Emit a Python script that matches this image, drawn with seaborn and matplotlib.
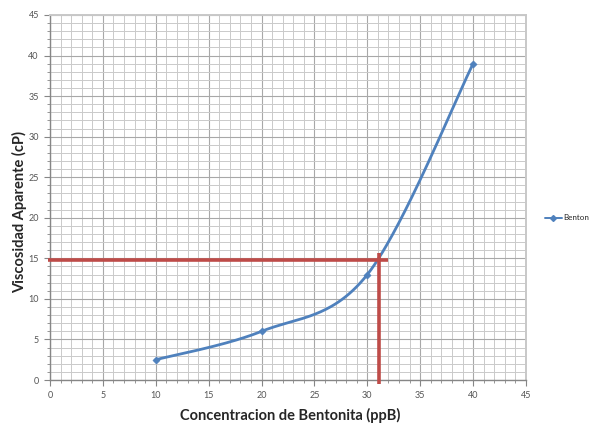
import numpy as np
import pandas as pd
import matplotlib
matplotlib.use("Agg")
import matplotlib.pyplot as plt
from matplotlib.lines import Line2D
from matplotlib.ticker import MultipleLocator
import seaborn as sns

# Measured points
concentracion = [10, 20, 30, 40]
viscosidad = [2.5, 6, 13, 39]
serie = "Bentonita"

# Reading guide lines (red)
guia_y = 14.8
guia_x = 31.1
guia_x_fin = 32.0
guia_y_fin = 15.6

sns.set_style("white")
plt.rcParams['font.family'] = ['Lato', 'DejaVu Sans']

W, H = 589, 423
fig = plt.figure(figsize=(W / 100, H / 100), dpi=100)
ax = fig.add_axes([50 / W, 1 - 380 / H, 476 / W, 365 / H])

azul = "#4F81BD"
rojo = "#BE4B48"


def curva_suave(x, y, n=60):
    """Excel-style smoothed line: cubic Bezier with cardinal control points."""
    p = np.column_stack([x, y]).astype(float)
    ext = np.vstack([p[0], p, p[-1]])
    pts = []
    t = np.linspace(0, 1, n)[:, None]
    for i in range(len(p) - 1):
        p0, p1 = ext[i + 1], ext[i + 2]
        c1 = p0 + (ext[i + 2] - ext[i]) / 6
        c2 = p1 - (ext[i + 3] - ext[i + 1]) / 6
        seg = ((1 - t) ** 3) * p0 + 3 * ((1 - t) ** 2) * t * c1 + 3 * (1 - t) * t ** 2 * c2 + t ** 3 * p1
        pts.append(seg)
    pts = np.vstack(pts)
    return pts[:, 0], pts[:, 1]


df = pd.DataFrame({"x": concentracion, "y": viscosidad})
sx, sy = curva_suave(df["x"], df["y"])
curve = pd.DataFrame({"x": sx, "y": sy})
sns.lineplot(data=curve, x="x", y="y", sort=False, color=azul, lw=2, ax=ax, zorder=3)
sns.scatterplot(data=df, x="x", y="y", marker="D", s=14, color=azul, edgecolor=azul, ax=ax, zorder=4)

# red guide lines
ax.plot([-0.2, guia_x_fin], [guia_y, guia_y], color=rojo, lw=2.6, zorder=5, clip_on=False,
        solid_capstyle="butt")
ax.plot([guia_x, guia_x], [-0.5, guia_y_fin], color=rojo, lw=2.6, zorder=5, clip_on=False,
        solid_capstyle="butt")

ax.set_xlim(0, 45)
ax.set_ylim(0, 45)
ax.xaxis.set_major_locator(MultipleLocator(5))
ax.yaxis.set_major_locator(MultipleLocator(5))
ax.xaxis.set_minor_locator(MultipleLocator(1))
ax.yaxis.set_minor_locator(MultipleLocator(1))
ax.grid(which="major", color="#A8A8A8", lw=0.8)
ax.grid(which="minor", color="#CACACA", lw=0.7)
ax.set_axisbelow(True)

for side in ["left", "bottom"]:
    ax.spines[side].set_color("#868686")
    ax.spines[side].set_linewidth(1)
for side in ["top", "right"]:
    ax.spines[side].set_color("#C8C8C8")
    ax.spines[side].set_linewidth(1.4)

ax.tick_params(which="major", direction="out", length=4, color="#868686",
               labelsize=6.5, labelcolor="#555555", left=True, bottom=True, pad=4)
ax.tick_params(which="minor", direction="out", length=2, color="#868686", left=True, bottom=True)

ax.set_xlabel("")
ax.set_ylabel("")
fig.text(290 / W, 1 - 415 / H, "Concentracion de Bentonita (ppB)", fontsize=10.5,
         fontweight="bold", ha="center", va="center")
fig.text(20 / W, 1 - 212 / H, "Viscosidad Aparente (cP)", fontsize=10.5,
         fontweight="bold", ha="center", va="center", rotation=90)

handle = Line2D([], [], color=azul, lw=1.4, marker="D", markersize=3)
ax.legend([handle], [serie], loc="center left", bbox_to_anchor=(1.04, 0.444), frameon=False,
          fontsize=5.8, handlelength=2.1, handletextpad=0.1, borderaxespad=0, borderpad=0)

fig.savefig("out.png", dpi=100)
